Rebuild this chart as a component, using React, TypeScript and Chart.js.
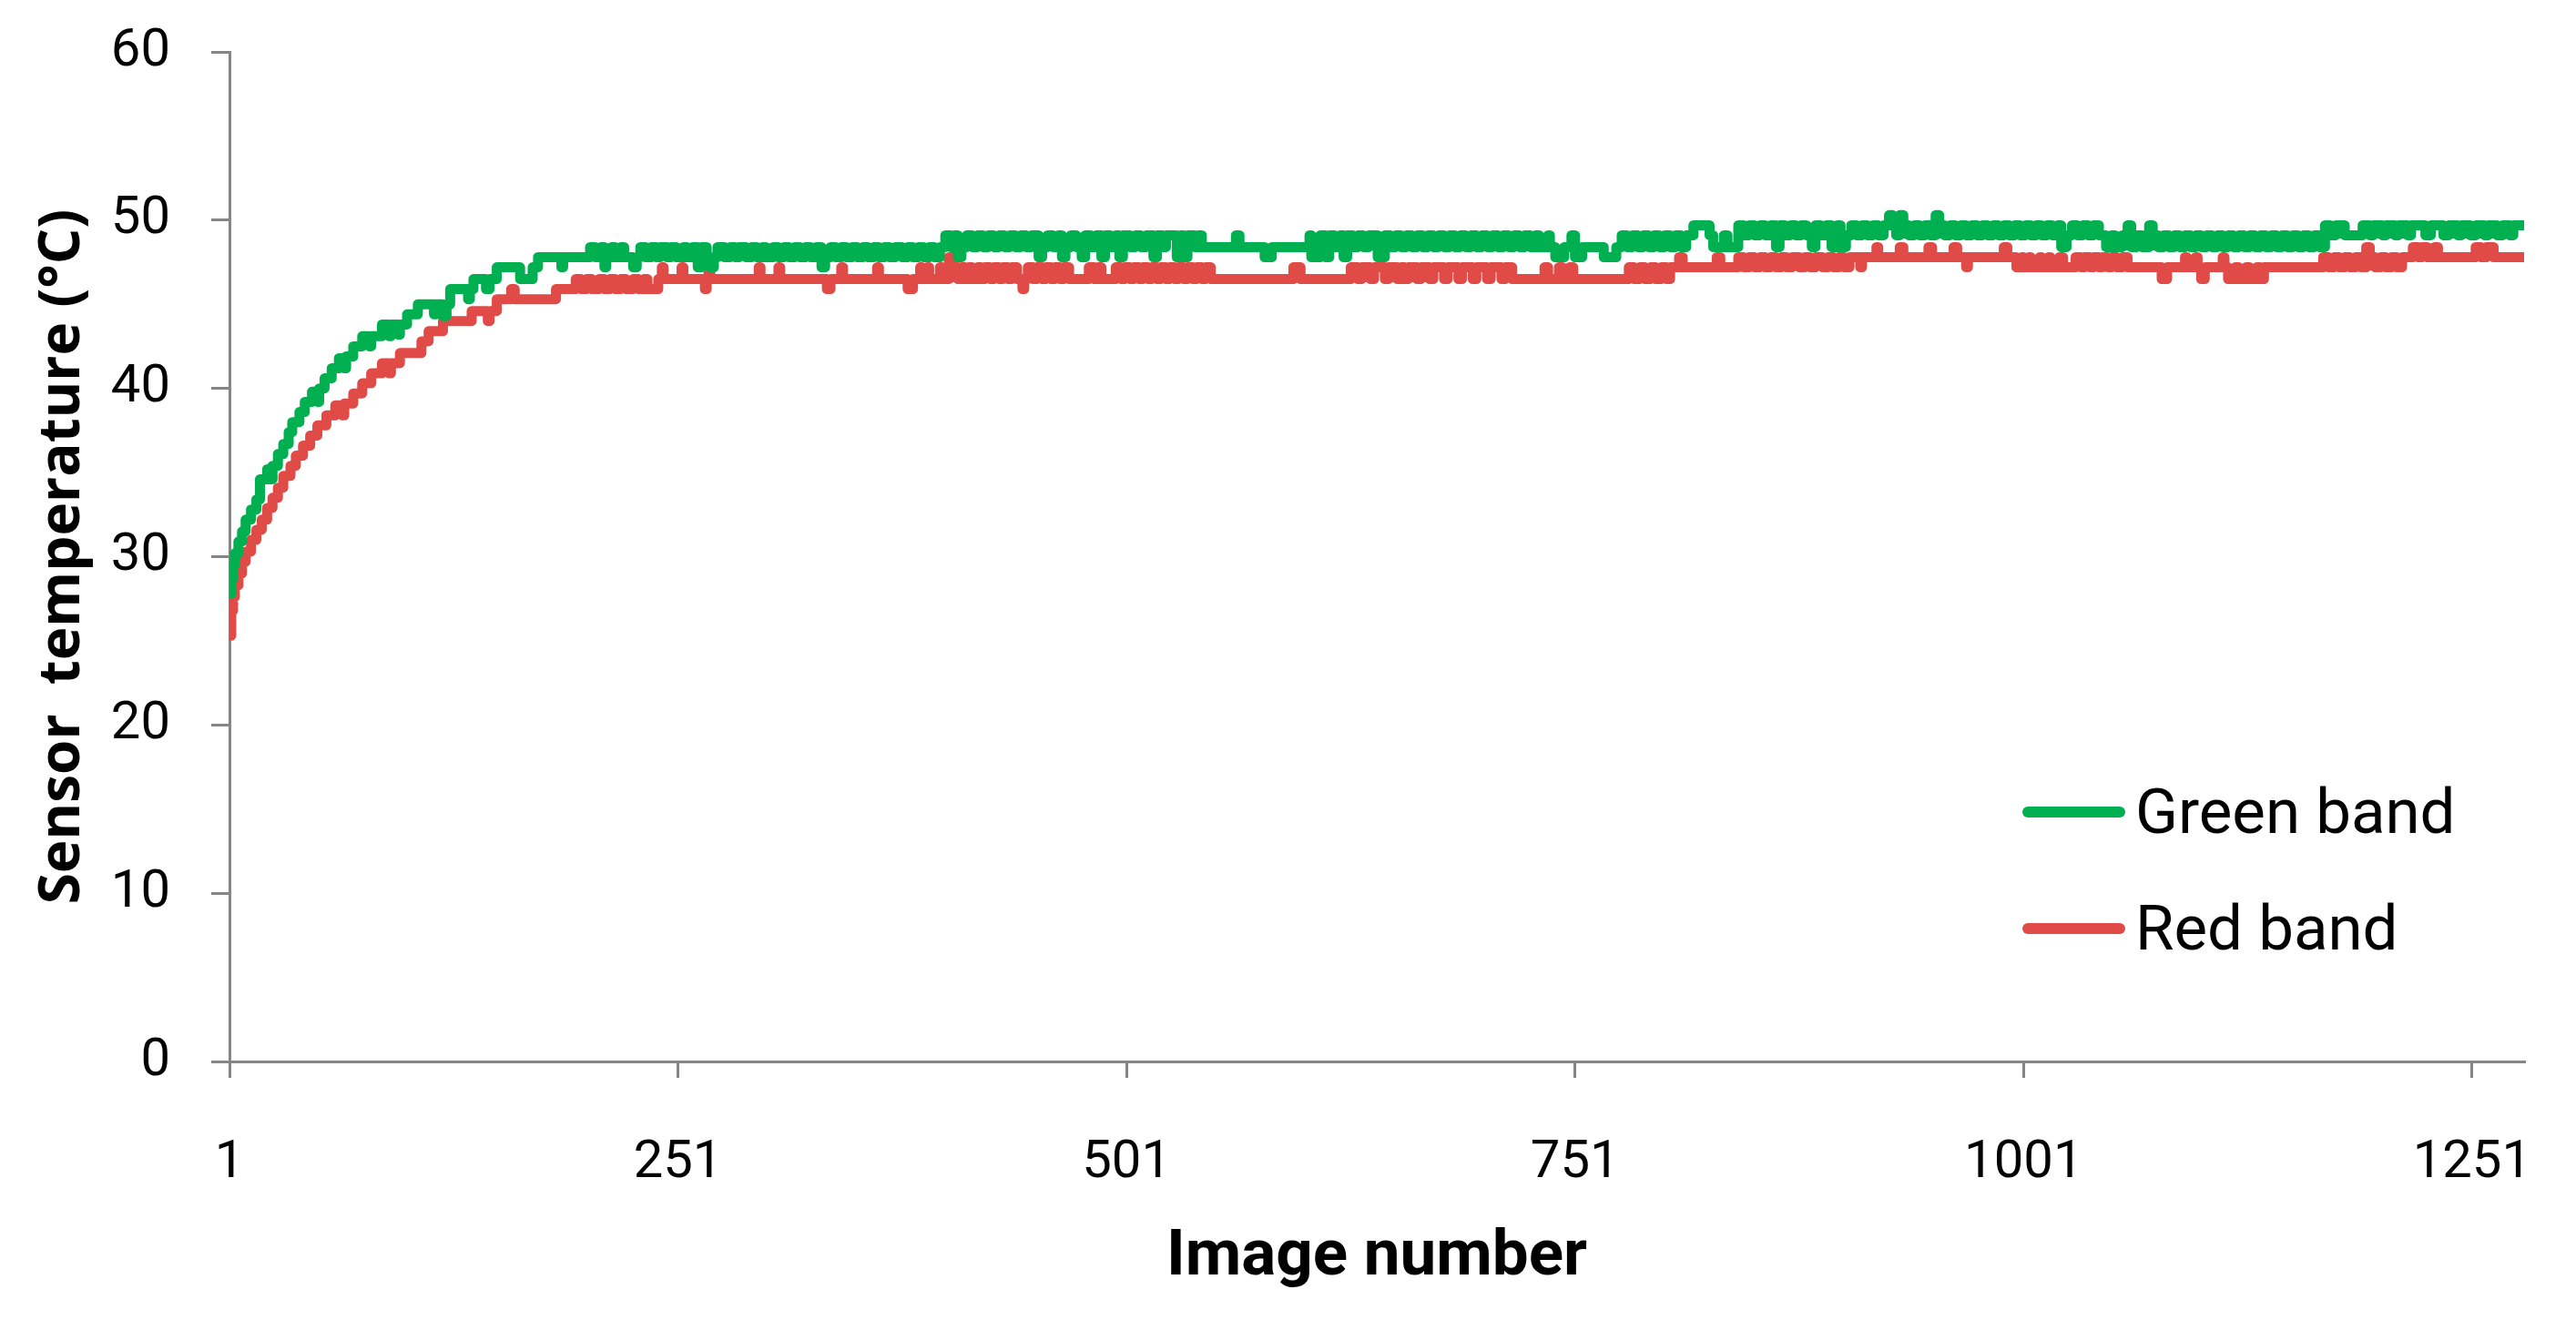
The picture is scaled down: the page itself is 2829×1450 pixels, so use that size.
import { useEffect, useRef } from "react";
import { Chart, registerables } from "chart.js";

Chart.register(...registerables);

// change points: [image number, temperature °C]
// (stepped line: value holds until the next change point)
const GREEN_BAND: [number, number][] = [
  [1, 27.8], [2, 28.7], [3, 29.5], [4, 30.2], [6, 30.9], [8, 31.5], [10, 32.2], [13, 32.8],
  [16, 33.4], [18, 34.6], [22, 35.2], [24, 34.6], [25, 35.4], [28, 36.1], [31, 36.7], [34, 37.4],
  [36, 38.0], [40, 38.6], [43, 39.2], [47, 39.8], [50, 39.2], [51, 40.0], [54, 40.6], [58, 41.2],
  [62, 41.8], [65, 41.2], [66, 41.9], [70, 42.5], [75, 43.1], [79, 42.5], [80, 43.1], [86, 43.8],
  [90, 43.1], [91, 43.8], [95, 43.2], [96, 43.8], [100, 44.4], [106, 45.0], [115, 44.4], [116, 45.0],
  [120, 44.3], [122, 45.0], [124, 45.9], [134, 45.3], [135, 45.9], [137, 46.5], [144, 45.9], [146, 46.5],
  [150, 47.2], [163, 46.5], [170, 47.2], [173, 47.8], [186, 47.2], [187, 47.8],
  [202, 48.4], [205, 47.8], [208, 48.4], [210, 47.2], [211, 47.8], [214, 48.4], [216, 47.8], [219, 48.4],
  [221, 47.8], [226, 47.2], [228, 47.8], [230, 48.4], [233, 47.8], [236, 48.4], [239, 47.8], [241, 48.4],
  [245, 47.8], [247, 48.4], [250, 47.8], [254, 48.4], [256, 47.8], [259, 48.4], [262, 47.2], [264, 48.4],
  [267, 47.8], [269, 47.2], [271, 47.8], [273, 48.4], [277, 47.8], [280, 48.4], [283, 47.8], [285, 48.4],
  [289, 47.8], [292, 48.4], [295, 47.8], [298, 48.4], [300, 47.8], [304, 48.4], [307, 47.8], [310, 48.4],
  [313, 47.8], [316, 48.4], [319, 47.8], [322, 48.4], [325, 47.8], [328, 48.4], [331, 47.2], [333, 47.8],
  [336, 48.4], [339, 47.8], [342, 48.4], [345, 47.8], [348, 48.4], [351, 47.8], [354, 48.4], [357, 47.8],
  [360, 48.4], [363, 47.8], [366, 48.4], [369, 47.8], [372, 48.4], [376, 47.8], [379, 48.4], [382, 47.8],
  [385, 48.4], [388, 47.8], [391, 48.4], [394, 47.8], [397, 48.4],
  [400, 49.1], [403, 48.4], [405, 49.1], [407, 47.8], [409, 48.4], [412, 49.1], [415, 48.4], [418, 49.1],
  [421, 48.4], [424, 49.1], [427, 48.4], [430, 49.1], [433, 48.4], [436, 49.1], [439, 48.4], [442, 49.1],
  [445, 48.4], [448, 49.1], [452, 47.8], [454, 48.4], [457, 49.1], [460, 48.4], [463, 49.1], [465, 47.8],
  [467, 48.4], [470, 49.1], [473, 48.4], [476, 47.8], [478, 49.1], [481, 48.4], [484, 49.1], [487, 47.8],
  [489, 49.1], [492, 48.4], [495, 49.1], [497, 47.8], [499, 49.1], [503, 48.4], [506, 49.1], [509, 48.4],
  [512, 49.1], [516, 47.8], [518, 49.1], [521, 48.4], [523, 49.1], [529, 47.8], [531, 49.1], [533, 47.8],
  [535, 49.1], [539, 48.4], [541, 49.1], [543, 48.4], [562, 49.1], [564, 48.4], [578, 47.8], [582, 48.4],
  [603, 49.1], [604, 47.8], [609, 49.1], [612, 47.8], [614, 49.1], [617, 48.4], [620, 49.1], [622, 47.8],
  [624, 49.1], [627, 48.4], [630, 49.1], [633, 48.4], [636, 49.1], [641, 47.8], [645, 49.1], [648, 48.4],
  [651, 49.1], [654, 48.4], [657, 49.1], [660, 48.4], [663, 49.1], [666, 48.4], [669, 49.1], [672, 48.4],
  [675, 49.1], [678, 48.4], [681, 49.1], [684, 48.4], [687, 49.1], [690, 48.4], [693, 49.1], [696, 48.4],
  [699, 49.1], [702, 48.4], [705, 49.1], [708, 48.4], [711, 49.1], [714, 48.4], [717, 49.1], [720, 48.4],
  [723, 49.1], [726, 48.4], [729, 49.1], [731, 48.4], [736, 49.1], [737, 48.4], [740, 47.8], [745, 48.4],
  [749, 49.1], [751, 47.8], [755, 48.4], [767, 47.8], [774, 48.4], [777, 49.1], [780, 48.4], [783, 49.1],
  [786, 48.4], [789, 49.1], [792, 48.4], [795, 49.1], [798, 48.4], [801, 49.1], [804, 48.4], [807, 49.1],
  [810, 48.4], [813, 49.1], [817, 49.7], [826, 49.1], [828, 48.4], [834, 49.1], [836, 48.4], [842, 49.7],
  [845, 49.1], [848, 49.7], [851, 49.1], [854, 49.7], [857, 49.1], [860, 49.7], [863, 48.4], [865, 49.7],
  [868, 49.1], [871, 49.7], [874, 49.1], [877, 49.7], [880, 49.1], [883, 48.4], [885, 49.7], [888, 49.1],
  [891, 49.7], [894, 48.4], [897, 49.7], [899, 48.4], [902, 49.1], [905, 49.7], [908, 49.1], [911, 49.7],
  [914, 49.1], [917, 49.7], [920, 49.1], [923, 49.7], [926, 50.3], [928, 49.7], [930, 49.1], [932, 50.3],
  [934, 49.7], [937, 49.1], [940, 49.7], [943, 49.1], [946, 49.7], [949, 49.1], [952, 50.3], [954, 49.7],
  [957, 49.1], [960, 49.7], [963, 49.1], [966, 49.7], [969, 49.1], [972, 49.7], [975, 49.1], [978, 49.7],
  [981, 49.1], [984, 49.7], [987, 49.1], [990, 49.7], [993, 49.1], [996, 49.7], [999, 49.1], [1002, 49.7],
  [1005, 49.1], [1008, 49.7], [1011, 49.1], [1014, 49.7], [1017, 49.1], [1020, 49.7], [1022, 48.4],
  [1025, 49.1], [1028, 49.7], [1031, 49.1], [1034, 49.7], [1037, 49.1], [1040, 49.7], [1043, 49.1],
  [1047, 48.4], [1050, 49.1], [1052, 48.4], [1056, 49.1], [1059, 49.7], [1061, 48.4], [1064, 49.1],
  [1067, 48.4], [1071, 49.7], [1073, 49.1], [1076, 48.4], [1079, 49.1], [1082, 48.4], [1085, 49.1],
  [1088, 48.4], [1091, 49.1], [1094, 48.4], [1097, 49.1], [1100, 48.4], [1103, 49.1], [1106, 48.4],
  [1109, 49.1], [1112, 48.4], [1115, 49.1], [1118, 48.4], [1121, 49.1], [1124, 48.4], [1127, 49.1],
  [1130, 48.4], [1133, 49.1], [1136, 48.4], [1139, 49.1], [1142, 48.4], [1145, 49.1], [1148, 48.4],
  [1151, 49.1], [1154, 48.4], [1157, 49.1], [1160, 48.4], [1163, 49.1], [1166, 48.4], [1169, 49.7],
  [1172, 49.1], [1175, 49.7], [1180, 49.1], [1190, 49.7], [1194, 49.1], [1196, 49.7], [1201, 49.1],
  [1203, 49.7], [1208, 49.1], [1210, 49.7], [1215, 49.1], [1217, 49.7], [1225, 49.1], [1228, 49.7],
  [1235, 49.1], [1238, 49.7], [1243, 49.1], [1245, 49.7], [1250, 49.1], [1253, 49.7], [1258, 49.1],
  [1260, 49.7], [1265, 49.1], [1268, 49.7], [1272, 49.1], [1274, 49.7], [1280, 49.7],
];

const RED_BAND: [number, number][] = [
  [1, 25.3], [2, 26.8], [3, 27.6], [4, 28.3], [6, 29.0], [8, 29.7], [10, 30.3], [13, 31.0],
  [16, 31.6], [19, 32.2], [22, 32.9], [25, 33.5], [28, 34.1], [31, 34.8], [35, 35.4], [38, 36.0],
  [42, 36.6], [46, 37.2], [50, 37.8], [55, 38.4], [60, 39.0], [64, 38.4], [65, 39.1], [70, 39.7],
  [75, 40.3], [80, 40.9], [86, 41.5], [90, 40.9], [91, 41.5], [96, 42.1], [108, 42.8], [112, 43.4],
  [120, 44.0], [136, 44.6], [145, 44.0], [146, 44.6], [150, 45.3], [158, 45.9], [160, 45.3], [183, 45.9],
  [194, 46.5], [197, 45.9], [200, 46.5], [203, 45.9], [207, 46.5], [210, 45.9], [213, 46.5], [216, 45.9],
  [219, 46.5], [222, 45.9], [226, 46.5], [229, 45.9], [232, 46.5], [234, 45.9], [240, 46.5], [242, 47.2],
  [243, 46.5], [253, 47.2], [254, 46.5], [266, 45.9], [267, 46.5], [268, 47.2], [269, 46.5], [296, 47.2],
  [297, 46.5], [307, 47.2], [308, 46.5], [334, 45.9], [336, 46.5], [342, 47.2], [343, 46.5], [362, 47.2],
  [363, 46.5], [379, 45.9], [382, 46.5], [386, 47.2], [387, 46.5], [390, 47.2], [391, 46.5], [397, 47.2],
  [398, 46.5], [402, 47.8], [405, 47.2], [407, 46.5], [409, 47.2], [411, 46.5], [413, 47.2], [415, 46.5],
  [418, 47.2], [420, 46.5], [422, 47.2], [425, 46.5], [427, 47.2], [430, 46.5], [432, 47.2], [435, 46.5],
  [437, 47.2], [440, 46.5], [443, 45.9], [444, 46.5], [446, 47.2], [449, 46.5], [451, 47.2], [454, 46.5],
  [456, 47.2], [459, 46.5], [461, 47.2], [464, 46.5], [466, 47.2], [469, 46.5], [480, 47.2], [483, 46.5],
  [485, 47.2], [487, 46.5], [495, 47.2], [498, 46.5], [500, 47.2], [503, 46.5], [505, 47.2], [508, 46.5],
  [510, 47.2], [513, 46.5], [515, 47.2], [518, 46.5], [520, 47.2], [523, 46.5], [525, 47.2], [528, 46.5],
  [530, 47.2], [533, 46.5], [535, 47.2], [538, 46.5], [540, 47.2], [543, 46.5], [545, 47.2], [548, 46.5],
  [594, 47.2], [598, 46.5], [626, 47.2], [630, 46.5], [632, 47.2], [637, 46.5], [639, 47.2], [645, 46.5],
  [647, 47.2], [652, 46.5], [654, 47.2], [656, 46.5], [658, 47.2], [663, 46.5], [665, 47.2], [670, 46.5],
  [672, 47.2], [678, 46.5], [680, 47.2], [686, 46.5], [688, 47.2], [694, 46.5], [696, 47.2], [702, 46.5],
  [704, 47.2], [710, 46.5], [712, 47.2], [716, 46.5], [734, 47.2], [736, 46.5], [742, 47.2], [744, 46.5],
  [748, 47.2], [750, 46.5], [781, 47.2], [784, 46.5], [787, 47.2], [790, 46.5], [793, 47.2], [796, 46.5],
  [799, 47.2], [802, 46.5], [804, 47.2], [809, 47.8], [811, 47.2], [830, 47.8], [832, 47.2], [842, 47.8],
  [845, 47.2], [848, 47.8], [851, 47.2], [854, 47.8], [857, 47.2], [860, 47.8], [863, 47.2], [866, 47.8],
  [869, 47.2], [872, 47.8], [876, 47.2], [879, 47.8], [882, 47.2], [885, 47.8], [889, 47.2], [892, 47.8],
  [895, 47.2], [898, 47.8], [901, 47.2], [904, 47.8], [910, 47.2], [911, 47.8], [919, 48.4], [920, 47.8],
  [932, 48.4], [934, 47.8], [948, 48.4], [950, 47.8], [962, 48.4], [964, 47.8], [969, 47.2], [970, 47.8],
  [990, 48.4], [992, 47.8], [997, 47.2], [1000, 47.8], [1001, 47.2], [1004, 47.8], [1005, 47.2],
  [1010, 47.8], [1011, 47.2], [1015, 47.8], [1016, 47.2], [1021, 47.8], [1023, 47.2], [1030, 47.8],
  [1033, 47.2], [1035, 47.8], [1038, 47.2], [1040, 47.8], [1043, 47.2], [1045, 47.8], [1048, 47.2],
  [1050, 47.8], [1053, 47.2], [1056, 47.8], [1059, 47.2], [1078, 46.5], [1081, 47.2], [1091, 47.8],
  [1092, 47.2], [1097, 47.8], [1098, 47.2], [1100, 46.5], [1102, 47.2], [1112, 47.8], [1113, 47.2],
  [1115, 46.5], [1119, 47.2], [1121, 46.5], [1125, 47.2], [1127, 46.5], [1131, 47.2], [1133, 46.5],
  [1135, 47.2], [1168, 47.8], [1171, 47.2], [1174, 47.8], [1177, 47.2], [1180, 47.8], [1183, 47.2],
  [1186, 47.8], [1189, 47.2], [1192, 48.4], [1194, 47.8], [1197, 47.2], [1200, 47.8], [1203, 47.2],
  [1206, 47.8], [1209, 47.2], [1212, 47.8], [1218, 48.4], [1221, 47.8], [1223, 48.4], [1226, 47.8],
  [1230, 48.4], [1232, 47.8], [1253, 48.4], [1256, 47.8], [1259, 48.4], [1263, 47.8], [1280, 47.8],
];

const X_TICKS = [1, 251, 501, 751, 1001, 1251];
const X_MIN = 1;
const X_MAX = 1280;
const Y_MIN = 0;
const Y_MAX = 60;
const Y_STEP = 10;

const SERIES = [
  { label: "Green band", color: "#00B050", points: GREEN_BAND },
  { label: "Red band", color: "#E04B47", points: RED_BAND },
];

const W = 2829;
const H = 1450;
const AXIS = "#868686";
const FONT = 'Roboto, "Open Sans", sans-serif';

function SensorChart() {
  const ref = useRef<HTMLCanvasElement | null>(null);
  const chartRef = useRef<Chart | null>(null);

  useEffect(() => {
    if (!ref.current) return;
    chartRef.current?.destroy();
    chartRef.current = new Chart(ref.current, {
      type: "line",
      data: {
        datasets: SERIES.map((s) => ({
          label: s.label,
          data: s.points.map(([x, y]) => ({ x, y })),
          borderColor: s.color,
          backgroundColor: s.color,
          borderWidth: 11,
          borderJoinStyle: "round" as const,
          borderCapStyle: "round" as const,
          stepped: true,
          pointRadius: 0,
          fill: false,
        })),
      },
      options: {
        animation: false,
        responsive: true,
        maintainAspectRatio: false,
        devicePixelRatio: 1,
        layout: { padding: { top: 57, right: 57, left: 0, bottom: 0 } },
        plugins: {
          legend: { display: false },
          tooltip: { enabled: false },
        },
        scales: {
          x: {
            type: "linear",
            min: X_MIN,
            max: X_MAX,
            afterBuildTicks: (axis) => {
              axis.ticks = X_TICKS.map((value) => ({ value }));
            },
            afterFit: (axis) => {
              axis.height = H - 1166;
              axis.paddingLeft = 0;
              axis.paddingRight = 0;
            },
            grid: {
              drawOnChartArea: false,
              drawTicks: true,
              tickLength: 18,
              color: AXIS,
              lineWidth: 3,
            },
            border: { color: AXIS, width: 3 },
            ticks: {
              color: "#000",
              padding: 60,
              maxRotation: 0,
              autoSkip: false,
              callback: (v) => String(v),
              font: { family: FONT, size: 58 },
            },
            title: {
              display: true,
              text: "Image number",
              color: "#000",
              padding: { top: 0, bottom: 25 },
              font: { family: FONT, size: 71, weight: "bold" },
            },
          },
          y: {
            min: Y_MIN,
            max: Y_MAX,
            afterFit: (axis) => {
              axis.width = 252;
              axis.paddingTop = 0;
              axis.paddingBottom = 0;
            },
            grid: {
              drawOnChartArea: false,
              drawTicks: true,
              tickLength: 20,
              color: AXIS,
              lineWidth: 3,
            },
            border: { color: AXIS, width: 3 },
            ticks: {
              stepSize: Y_STEP,
              color: "#000",
              padding: 45,
              font: { family: FONT, size: 58 },
            },
            title: {
              display: true,
              text: "Sensor  temperature (°C)",
              color: "#000",
              padding: { top: 32, bottom: 0 },
              font: { family: '"Open Sans", sans-serif', size: 62, weight: "bold" },
            },
          },
        },
      },
    });
    return () => {
      chartRef.current?.destroy();
      chartRef.current = null;
    };
  }, []);

  return (
    <div style={{ position: "fixed", left: 0, top: 0, width: W, height: H, background: "#fff" }}>
      <canvas ref={ref} aria-label="Sensor temperature by image number" />
      <div style={{ position: "absolute", left: 2221, top: 0, fontFamily: FONT, fontSize: 69, color: "#000" }}>
        {SERIES.map((s, i) => (
          <div
            key={s.label}
            style={{
              position: "absolute",
              top: (i === 0 ? 892 : 1020) - 35,
              left: 0,
              height: 70,
              lineHeight: "70px",
              display: "flex",
              alignItems: "center",
              whiteSpace: "nowrap",
            }}
          >
            <span
              style={{
                display: "inline-block",
                width: 113,
                height: 12,
                borderRadius: 6,
                background: s.color,
                marginRight: 11,
              }}
            />
            {s.label}
          </div>
        ))}
      </div>
    </div>
  );
}

export default function App() {
  useEffect(() => {
    document.body.style.margin = "0";
  }, []);
  return <SensorChart />;
}
